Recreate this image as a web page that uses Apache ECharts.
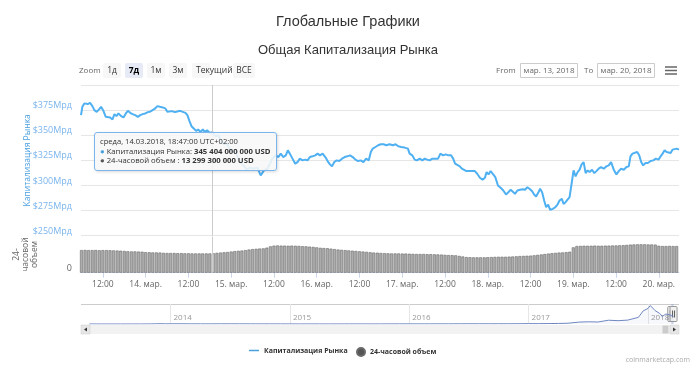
<!DOCTYPE html>
<html><head><meta charset="utf-8">
<script src="https://cdn.jsdelivr.net/npm/echarts@6/dist/echarts.min.js"></script>
<style>html,body{margin:0;padding:0;background:#fff}#c{width:700px;height:365px}</style>
</head><body><div id="c"></div>
<script>
// ---- DATA ----
// hours since 13.03.2018 00:00 (UTC+02:00)
const capHours = [5.86,6.24,6.80,7.74,8.40,9.05,9.62,10.27,10.93,11.49,12.15,12.81,13.37,14.03,14.69,15.25,15.81,16.38,17.13,17.79,18.44,19.01,19.66,20.32,21.07,21.82,22.48,23.14,23.89,24.64,25.39,25.95,26.71,27.27,28.02,28.77,29.52,30.09,30.65,31.40,32.15,32.90,33.65,34.41,35.16,35.72,36.28,36.85,37.50,38.16,38.73,39.38,40.04,40.60,41.26,41.92,42.78,43.60,44.40,45.20,46.00,46.80,47.60,48.40,49.20,50.00,50.80,51.70,52.53,53.19,53.94,55.35,56.28,57.22,58.16,59.57,60.51,61.26,61.92,62.58,63.33,63.89,64.45,65.21,65.96,66.61,67.27,68.02,68.77,69.43,70.09,70.84,71.59,72.25,72.90,73.66,74.41,75.06,75.72,76.29,76.94,77.60,78.35,79.10,79.85,80.60,81.36,82.11,82.86,83.61,84.36,85.11,85.86,86.61,87.18,87.74,88.49,89.24,89.99,90.75,91.50,92.44,93.38,94.13,94.88,95.72,96.66,97.60,98.07,98.82,99.48,100.14,100.89,101.64,102.30,102.95,103.70,104.46,105.21,106.05,106.71,107.46,108.21,108.96,109.71,110.28,110.84,111.40,112.16,112.72,113.28,114.03,114.78,115.54,116.38,117.04,117.79,118.54,119.20,119.67,120.23,120.79,121.36,122.11,122.86,123.61,124.36,125.11,125.77,126.43,126.99,127.65,128.31,129.06,129.81,130.47,131.12,131.87,132.44,133.00,133.56,134.22,134.69,135.25,135.82,136.38,136.94,137.51,138.26,138.92,139.57,140.14,140.79,141.26,141.83,142.39,142.95,143.52,144.08,144.64,145.21,145.77,146.33,146.90,147.46,148.02,148.59,149.25,149.90,150.47,151.12,151.78,152.53,153.28,153.94,154.60,155.35,156.10,156.76,157.41,158.17,158.92,159.57,160.04,160.61,161.17,161.92,162.49,163.05,163.61,164.27,164.93,165.68,166.43,167.18,167.93,168.50,169.06,169.62,170.19,170.75,171.31,171.88,172.44,173.00,173.66];
// market cap, $ billions
const capValues = [370.0,378.3,381.7,381.0,382.3,379.0,375.0,373.3,375.7,378.3,374.3,368.3,370.0,367.7,365.7,371.0,369.0,371.7,369.0,367.7,371.7,374.3,372.3,371.0,370.0,368.3,370.0,371.0,371.7,373.0,373.7,374.3,376.7,379.0,378.3,377.7,376.7,373.3,371.7,374.0,373.0,373.7,374.3,373.3,372.3,370.0,364.3,359.0,356.7,354.3,355.7,353.3,355.7,353.3,355.0,352.3,353.0,349.0,350.0,344.0,341.0,342.0,336.0,333.0,334.0,327.0,322.0,319.0,315.0,318.0,316.7,317.7,310.0,315.0,316.7,326.7,330.0,328.3,331.7,328.3,330.0,335.0,331.7,326.7,321.7,323.3,326.7,325.0,325.7,325.0,328.3,329.0,330.0,331.7,330.0,331.7,328.3,324.3,321.0,319.0,323.3,325.0,324.3,326.7,328.3,329.0,330.0,328.3,325.7,324.3,325.0,323.3,326.7,325.0,333.3,336.7,338.3,340.0,341.0,341.0,340.0,341.0,340.0,341.0,339.0,338.3,337.7,336.7,331.7,330.0,325.7,325.0,326.7,325.0,326.7,325.7,325.0,326.7,326.7,326.7,331.7,330.0,331.0,330.0,330.0,326.7,321.7,320.0,319.0,316.7,315.7,314.3,314.3,314.3,314.3,311.7,307.7,305.7,307.7,313.3,311.0,314.3,311.7,308.3,300.0,297.7,295.0,291.0,293.3,295.7,294.3,291.7,295.0,295.7,296.3,295.7,298.3,296.3,294.3,291.0,289.0,293.3,296.7,293.3,285.0,278.3,281.0,275.7,276.7,278.3,281.0,285.0,286.7,281.7,283.3,285.0,288.3,301.7,315.0,309.0,313.3,315.7,321.0,323.3,312.3,315.0,313.3,315.7,312.3,314.3,316.7,318.3,316.7,319.0,320.0,323.3,315.7,311.0,314.3,316.7,315.7,318.3,319.0,329.0,331.7,330.0,333.3,330.0,323.3,320.0,322.3,322.3,324.3,325.0,326.7,325.7,329.0,331.7,335.0,333.3,334.3,332.3,335.7,334.3,336.7,335.7];
// 24h volume, $ billions, hourly from hour 6
const volFirstHour = 6;
const volValues = [15.6,15.7,15.6,15.6,15.7,15.5,15.6,15.6,15.5,15.4,15.3,15.2,15.0,14.8,14.7,14.7,14.6,14.5,14.2,14.1,14.0,14.0,13.9,13.7,13.6,13.6,13.6,13.5,13.5,13.4,13.4,13.3,13.3,13.3,13.3,13.3,13.3,13.4,13.7,13.9,14.1,14.3,14.6,14.9,15.1,15.3,15.6,16.0,16.3,16.5,16.7,16.8,17.3,18.2,18.7,18.8,18.7,18.7,18.6,18.7,18.6,18.5,18.3,18.2,18.0,17.8,17.5,17.2,17.0,16.9,16.6,16.3,16.0,15.8,15.6,15.4,15.2,15.0,14.8,14.6,14.4,14.1,13.9,13.8,13.6,13.5,13.4,13.3,13.3,13.3,13.2,13.2,13.1,13.0,12.9,12.9,12.9,12.8,12.8,12.7,12.6,12.5,12.3,12.2,12.1,12.0,11.6,11.2,10.8,10.7,10.6,10.6,10.6,10.6,10.7,10.8,10.9,11.0,11.0,11.0,11.1,11.2,11.3,11.5,11.6,11.7,11.8,12.0,12.3,12.6,12.9,13.2,13.5,13.7,13.9,14.0,14.2,14.5,17.5,18.4,18.5,18.6,18.6,18.6,18.7,18.6,18.6,18.7,18.7,18.8,18.8,18.9,19.0,19.2,19.4,19.5,19.6,19.6,19.6,19.5,19.5,19.4,18.6,18.4,18.4,18.5,18.4,18.4];
// navigator: decimal year, market cap $ billions
const navYears = [2013.32,2013.42,2013.5,2013.58,2013.67,2013.75,2013.83,2013.88,2013.92,2013.96,2014.0,2014.08,2014.17,2014.25,2014.33,2014.42,2014.5,2014.58,2014.67,2014.75,2014.83,2014.92,2015.0,2015.08,2015.17,2015.25,2015.33,2015.42,2015.5,2015.58,2015.67,2015.75,2015.83,2015.92,2016.0,2016.08,2016.17,2016.25,2016.33,2016.42,2016.5,2016.58,2016.67,2016.75,2016.83,2016.92,2017.0,2017.08,2017.17,2017.25,2017.33,2017.42,2017.5,2017.58,2017.67,2017.75,2017.83,2017.92,2017.96,2018.0,2018.02,2018.06,2018.1,2018.12,2018.15,2018.18,2018.214];
const navCaps = [1.5,1.3,1.1,1.3,1.6,2.0,4.0,10.0,13.5,9.0,10.0,10.5,8.0,6.5,6.0,8.5,8.0,7.5,6.5,5.5,5.5,4.8,4.5,3.3,3.6,3.4,3.3,3.4,4.0,3.7,3.5,3.6,4.5,6.0,6.5,5.8,7.0,7.3,7.5,9.5,10.5,10.0,9.8,10.2,11.0,12.0,17.7,16.0,20.0,25.0,35,85,100,90,170,150,175,300,590,700,830,600,470,340,450,420,330];
const navRange = [2013.25, 2018.26];
const navYearTicks = [2014,2015,2016,2017,2018];
const navSelection = [2018.1952, 2018.2144];
const rangeButtons = ['1д','7д','1м','3м','Текущий Г','ВСЕ'];
const selectedButton = '7д';
const dateFrom = 'мар. 13, 2018', dateTo = 'мар. 20, 2018';
const tipHour = 42.78;
const tipDate = 'среда, 14.03.2018, 18:47:00 UTC+02:00';
const tipCap = 345404000000, tipVol = 13299300000;
const monthName = 'мар.';
const firstDay = 13;

// ---- CHART ----
const FONT = 'Open Sans';
const LINE = '#48a0dc';
const chart = echarts.init(document.getElementById('c'), null, {renderer:'canvas'});
const xMin = Math.min(...capHours), xMax = Math.max(...capHours);
const tickHours = [];
for (let h = 12; h <= xMax; h += 12) tickHours.push(h);
const fmtNum = n => String(n).replace(/\B(?=(\d{3})+(?!\d))/g, ' ');

const g = [];
g.push({type:'text', x:79, y:70.5, style:{text:'Zoom', fontSize:8, fill:'#666', fontFamily:FONT, verticalAlign:'middle'}});
const btnX = [103,125,147,169,192,233], btnW = [18,18,18,18,18,22];
rangeButtons.forEach((b,i)=>{
  const sel = b === selectedButton;
  g.push({type:'rect', shape:{x:btnX[i], y:63, width:btnW[i], height:15, r:2}, style:{fill: sel?'#e6ebf5':'#f7f7f7'}});
  const wide = b.length > 3;
  g.push({type:'text', x: wide ? btnX[i]+4 : btnX[i]+btnW[i]/2, y:70.5, style:{text:b, fontSize:8.5, fontWeight: sel?'bold':'normal', fill: sel?'#000':'#333', fontFamily:FONT, align: wide?'left':'center', verticalAlign:'middle'}});
});
g.push({type:'text', x:496, y:70.5, style:{text:'From', fontSize:8, fill:'#666', fontFamily:FONT, verticalAlign:'middle'}});
g.push({type:'rect', shape:{x:520.5, y:63.5, width:57, height:14}, style:{fill:'#fff', stroke:'#ccc', lineWidth:1}});
g.push({type:'text', x:549, y:70.5, style:{text:dateFrom, fontSize:8, fill:'#666', fontFamily:FONT, align:'center', verticalAlign:'middle'}});
g.push({type:'text', x:584, y:70.5, style:{text:'To', fontSize:8, fill:'#666', fontFamily:FONT, verticalAlign:'middle'}});
g.push({type:'rect', shape:{x:597.5, y:63.5, width:57, height:14}, style:{fill:'#fff', stroke:'#ccc', lineWidth:1}});
g.push({type:'text', x:626, y:70.5, style:{text:dateTo, fontSize:8, fill:'#666', fontFamily:FONT, align:'center', verticalAlign:'middle'}});
[67,70.5,74].forEach(y=>g.push({type:'line', shape:{x1:665, y1:y, x2:677, y2:y}, style:{stroke:'#666', lineWidth:1.5}}));
g.push({type:'text', x:690, y:360, style:{text:'coinmarketcap.com', fontSize:7, fill:'#aaa', fontFamily:FONT, align:'right', verticalAlign:'middle'}});

const legendText = {fontSize:7, fontWeight:'bold', color:'#333', fontFamily:FONT};
const option = {
  animation:false,
  textStyle:{fontFamily:FONT},
  title:[
    {text:'Глобальные Графики', left:343, textAlign:'center', top:9, textStyle:{fontSize:14.5, fontWeight:'normal', color:'#333', fontFamily:'Liberation Sans'}},
    {text:'Общая Капитализация Рынка', left:343, textAlign:'center', top:39, textStyle:{fontSize:13, fontWeight:'normal', color:'#333', fontFamily:'Liberation Sans'}}
  ],
  legend:[
    {left:249, top:347, padding:0, itemWidth:10, itemHeight:8, textStyle:legendText,
      data:[{name:'Капитализация Рынка', icon:'path://M0,0 L20,0 L20,3 L0,3 Z', itemStyle:{color:LINE}}]},
    {left:356, top:347, padding:0, itemWidth:8, itemHeight:8, textStyle:legendText,
      data:[{name:'24-часовой объем', icon:'circle', itemStyle:{color:'#555'}}]}
  ],
  grid:[
    {left:81, right:21, top:85, bottom:129.3, outerBoundsMode:'none'},
    {left:81, right:21, top:236.5, bottom:92.3, outerBoundsMode:'none'},
    {left:81, right:21, top:304, bottom:41, outerBoundsMode:'none'}
  ],
  axisPointer:{link:[{xAxisIndex:[0,1]}]},
  tooltip:{trigger:'axis', triggerOn:'none', alwaysShowContent:true, transitionDuration:0,
    position:[94,132], padding:[4,5],
    backgroundColor:'rgba(247,247,247,0.88)', borderColor:'#7cb5ec', borderWidth:1,
    extraCssText:'border-radius:3px;box-shadow:1px 1px 3px rgba(0,0,0,0.15);white-space:nowrap;',
    axisPointer:{type:'line', lineStyle:{color:'#cccccc', width:1, type:'solid'}},
    formatter:()=>`<div style="font-size:7.6px;color:#333;line-height:9.5px;font-family:${FONT}">${tipDate}</div>`+
      `<div style="font-size:7.7px;color:#333;line-height:9.5px;font-family:${FONT}"><span style="color:${LINE}">●</span> Капитализация Рынка: <b>${fmtNum(tipCap)} USD</b></div>`+
      `<div style="font-size:7.7px;color:#333;line-height:9.5px;font-family:${FONT}"><span style="color:#555">●</span> 24-часовой объем : <b>${fmtNum(tipVol)} USD</b></div>`
  },
  xAxis:[
    {type:'value', gridIndex:0, min:xMin, max:xMax, axisLine:{show:false}, axisTick:{show:false}, axisLabel:{show:false}, splitLine:{show:false},
      axisPointer:{snap:true, label:{show:false}, lineStyle:{color:'#cccccc', width:1, type:'solid'}}},
    {type:'value', gridIndex:1, min:xMin, max:xMax,
      axisLine:{show:true, lineStyle:{color:'#ccd6eb'}},
      axisTick:{show:true, customValues:tickHours, length:5, lineStyle:{color:'#ccd6eb'}},
      axisLabel:{customValues:tickHours, fontSize:8.5, color:'#666', margin:7,
        formatter:v=> (Math.round(v)%24===0) ? (firstDay+Math.round(v)/24)+'. '+monthName : '12:00'},
      splitLine:{show:false}, axisPointer:{label:{show:false}, lineStyle:{color:'#cccccc', width:1, type:'solid'}}},
    {type:'value', gridIndex:2, min:navRange[0], max:navRange[1],
      axisLine:{show:false}, axisTick:{show:false, customValues:navYearTicks},
      axisLabel:{inside:true, customValues:navYearTicks, fontSize:8, color:'#999', align:'left', padding:[0,0,0,3], margin:2, formatter:v=>String(v)},
      splitLine:{show:true, lineStyle:{color:'#e6e6e6'}}, axisPointer:{show:false}}
  ],
  yAxis:[
    {type:'value', gridIndex:0, min:250, max:400, interval:25,
      name:'Капитализация Рынка', nameLocation:'middle', nameGap:49, nameRotate:90, nameMoveOverlap:false,
      nameTextStyle:{fontSize:8.5, color:'#4a9fe0', fontFamily:FONT},
      axisLine:{show:false}, axisTick:{show:false},
      axisLabel:{fontSize:9, color:'#7cb5ec', margin:9, verticalAlign:'bottom', lineHeight:9, formatter:v=> v===400 ? '' : '$'+v+'Мрд'},
      splitLine:{lineStyle:{color:'#e6e6e6'}}},
    {type:'value', gridIndex:1, min:0, max:25, interval:25,
      name:'24-\nчасовой\nобъем', nameLocation:'middle', nameGap:42, nameRotate:90, nameMoveOverlap:false,
      nameTextStyle:{fontSize:8.5, color:'#666', lineHeight:9, fontFamily:FONT},
      axisLine:{show:false}, axisTick:{show:false},
      axisLabel:{fontSize:9, color:'#666', margin:9, verticalAlign:'bottom', lineHeight:9, formatter:v=> v===0 ? '0' : ''},
      splitLine:{show:false}},
    {type:'value', gridIndex:2, min:0, max:900, show:false}
  ],
  series:[
    {name:'Капитализация Рынка', type:'line', xAxisIndex:0, yAxisIndex:0, symbol:'none', showSymbol:false,
      lineStyle:{width:2, color:LINE}, itemStyle:{color:LINE},
      data:capHours.map((h,i)=>[h, capValues[i]])},
    {name:'24-часовой объем', type:'bar', xAxisIndex:1, yAxisIndex:1, barWidth:3,
      itemStyle:{color:'#adadad', borderColor:'#6a6a6a', borderWidth:0.6},
      data:volValues.map((v,i)=>[volFirstHour+i, v])},
    {name:'navigator', type:'line', xAxisIndex:2, yAxisIndex:2, symbol:'none', silent:true,
      lineStyle:{width:1, color:'#6f86c0'}, areaStyle:{color:'rgba(51,92,173,0.06)'},
      data:navYears.map((y,i)=>[y, navCaps[i]])}
  ],
  graphic:g
};
chart.setOption(option);

// navigator decorations positioned through the navigator axis
const pL = chart.convertToPixel({xAxisIndex:2, yAxisIndex:2}, [navSelection[0], 0]);
const pR = chart.convertToPixel({xAxisIndex:2, yAxisIndex:2}, [navSelection[1], 900]);
const navTop = pR[1], navBot = pL[1];
const gl = chart.convertToPixel({xAxisIndex:2}, navRange[0]);
const gr = chart.convertToPixel({xAxisIndex:2}, navRange[1]);
const extra = [];
extra.push({type:'line', shape:{x1:gl, y1:navTop+0.5, x2:gr, y2:navTop+0.5}, style:{stroke:'#ccc', lineWidth:1}});
extra.push({type:'rect', shape:{x:pL[0], y:navTop, width:Math.max(1,pR[0]-pL[0]), height:navBot-navTop}, style:{fill:'rgba(102,133,194,0.3)'}});
const midY = (navTop+navBot)/2;
[pL[0], pR[0]].forEach(x=>{
  extra.push({type:'rect', shape:{x:x-3.5, y:midY-7.5, width:7, height:15, r:1}, style:{fill:'#f2f2f2', stroke:'#999', lineWidth:1}});
  extra.push({type:'line', shape:{x1:x-1, y1:midY-3.5, x2:x-1, y2:midY+3.5}, style:{stroke:'#333', lineWidth:0.8}});
  extra.push({type:'line', shape:{x1:x+1, y1:midY-3.5, x2:x+1, y2:midY+3.5}, style:{stroke:'#333', lineWidth:0.8}});
});
const sbY = navBot + 1, sbH = 9;
extra.push({type:'rect', shape:{x:gl, y:sbY, width:gr-gl, height:sbH}, style:{fill:'#f2f2f2'}});
extra.push({type:'rect', shape:{x:gl, y:sbY, width:sbH, height:sbH}, style:{fill:'#e6e6e6', stroke:'#ccc', lineWidth:0.5}});
extra.push({type:'rect', shape:{x:gr-sbH, y:sbY, width:sbH, height:sbH}, style:{fill:'#e6e6e6', stroke:'#ccc', lineWidth:0.5}});
extra.push({type:'polygon', shape:{points:[[gl+3,sbY+sbH/2],[gl+6,sbY+2.5],[gl+6,sbY+sbH-2.5]]}, style:{fill:'#333'}});
extra.push({type:'polygon', shape:{points:[[gr-3,sbY+sbH/2],[gr-6,sbY+2.5],[gr-6,sbY+sbH-2.5]]}, style:{fill:'#333'}});
const trackL = gl+sbH, trackR = gr-sbH;
const frac = (navSelection[0]-navRange[0])/(navRange[1]-navRange[0]);
const thW = 6;
const thX = Math.min(trackR - thW, trackL + frac*(trackR-trackL));
extra.push({type:'rect', shape:{x:thX, y:sbY+0.5, width:thW, height:sbH-1}, style:{fill:'#ccc'}});
chart.setOption({graphic: g.concat(extra)});

const tipIndex = capHours.indexOf(tipHour);
chart.dispatchAction({type:'showTip', seriesIndex:0, dataIndex:tipIndex});
</script></body></html>
